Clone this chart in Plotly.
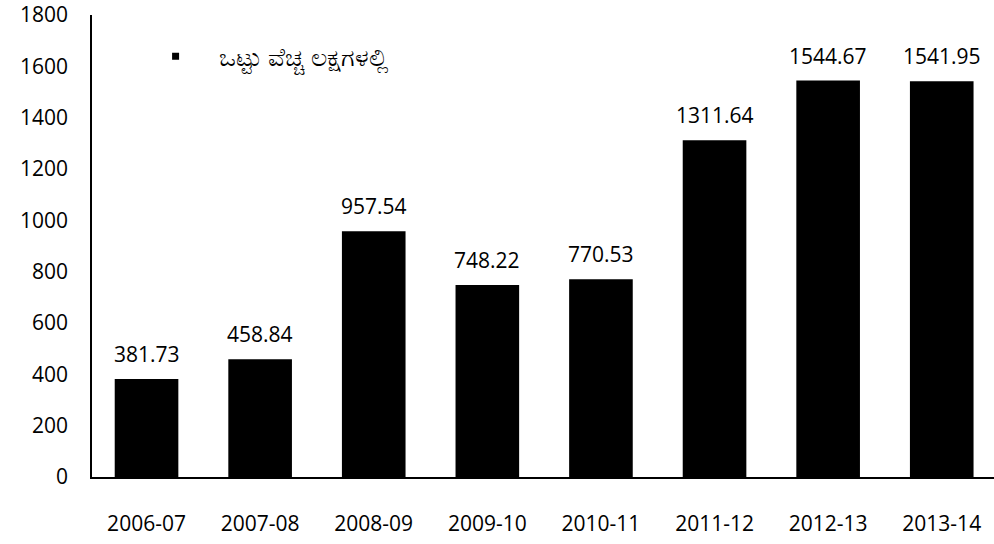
import plotly.graph_objects as go

# years and total expenditure (in lakhs)
years = ["2006-07", "2007-08", "2008-09", "2009-10", "2010-11", "2011-12", "2012-13", "2013-14"]
spend = [381.73, 458.84, 957.54, 748.22, 770.53, 1311.64, 1544.67, 1541.95]
series_name = "ಒಟ್ಟು ವೆಚ್ಚ ಲಕ್ಷಗಳಲ್ಲಿ"

fig = go.Figure()
fig.add_trace(go.Bar(
    x=years, y=spend, name=series_name, showlegend=False,
    marker=dict(color="black", line=dict(width=0)),
    width=0.56,
))
# legend entry with a small square key, as in the original
fig.add_trace(go.Scatter(
    x=[None], y=[None], mode="markers", name=series_name,
    marker=dict(symbol="square", size=7, color="black"),
))

# value labels above the bars
for yr, v in zip(years, spend):
    fig.add_annotation(x=yr, y=v, text=f"{v:.2f}", showarrow=False,
                       yanchor="bottom", yshift=9,
                       font=dict(size=21, color="black"))

fig.update_layout(
    width=994, height=544,
    margin=dict(l=92, r=0, t=15, b=67),
    paper_bgcolor="white", plot_bgcolor="white",
    font=dict(family="Open Sans, Noto Sans, sans-serif", size=21, color="black"),
    showlegend=True,
    legend=dict(x=0.045, y=0.91, xanchor="left", yanchor="middle",
                bgcolor="rgba(0,0,0,0)", font=dict(size=25), itemwidth=76),
)
fig.update_xaxes(
    type="category", range=[-0.48, 7.46],
    showline=True, linecolor="black", linewidth=1.5,
    ticks="", tickfont=dict(size=21), ticklabelstandoff=27,
    showgrid=False, automargin=False,
)
fig.update_yaxes(
    range=[0, 1800], dtick=200,
    showline=True, linecolor="black", linewidth=1.5,
    ticks="", tickfont=dict(size=21), ticklabelstandoff=18,
    showgrid=False, zeroline=False, automargin=False,
)

# drop the default page margin so the figure fills the window
fig.write_html("out.html", config={"displayModeBar": False},
               post_script="document.body.style.margin='0';")
